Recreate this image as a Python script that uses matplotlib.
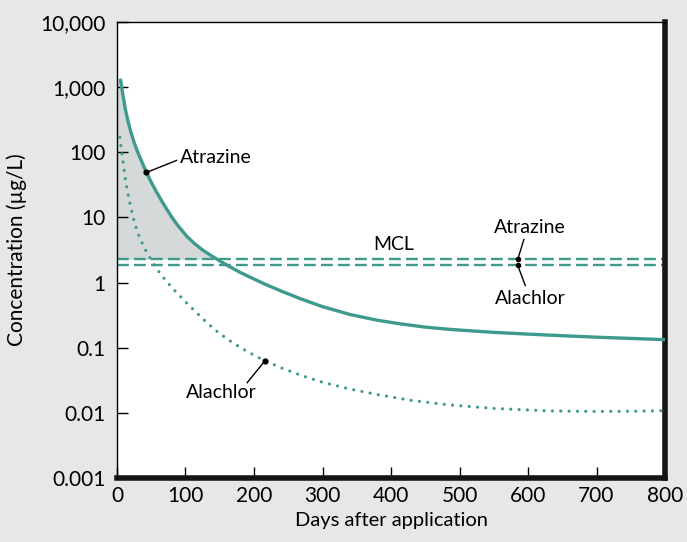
import matplotlib
matplotlib.use("Agg")
import matplotlib.pyplot as plt
from matplotlib.ticker import FixedLocator, FixedFormatter

# ---- data ----
atrazine_days = [5, 8, 12, 16, 20, 25, 30, 36, 43, 50, 58, 66, 73, 80, 90, 102, 113, 125,
                 138, 152, 165, 180, 195, 215, 240, 267, 300, 340, 380, 413, 450, 486,
                 550, 625, 700, 800]
atrazine_conc = [1350, 830, 468, 302, 209, 141, 102, 72.4, 49, 34.7, 24.3, 17.4, 13.2, 10.1,
                 7.24, 5.13, 3.98, 3.16, 2.57, 2.09, 1.74, 1.43, 1.2, 0.955, 0.738, 0.569,
                 0.427, 0.324, 0.264, 0.233, 0.207, 0.191, 0.172, 0.157, 0.145, 0.133]

alachlor_days = [4, 8, 12, 16, 20, 26, 32, 40, 53, 65, 75, 87, 100, 115, 131, 146, 162, 180,
                 200, 216, 240, 270, 300, 340, 380, 430, 486, 550, 632, 700, 760, 800]
alachlor_conc = [170, 83, 39.8, 22.9, 14.5, 7.94, 5.25, 3.39, 1.95, 1.29, 0.966, 0.70, 0.507,
                 0.355, 0.243, 0.178, 0.133, 0.101, 0.0767, 0.063, 0.049, 0.0372, 0.0295,
                 0.0232, 0.0191, 0.0155, 0.0132, 0.0117, 0.0107, 0.0105, 0.0106, 0.0108]

mcl_atrazine = 2.27
mcl_alachlor = 1.84

y_ticks = [0.001, 0.01, 0.1, 1, 10, 100, 1000, 10000]
y_tick_labels = ["0.001", "0.01", "0.1", "1", "10", "100", "1,000", "10,000"]
x_ticks = [0, 100, 200, 300, 400, 500, 600, 700, 800]

teal = "#3d9a8d"
font = ["Lato", "DejaVu Sans"]
plt.rcParams["font.family"] = font

fig = plt.figure(figsize=(6.87, 5.42), dpi=100)
fig.patch.set_facecolor("#e6e8e8")
ax = fig.add_axes([0.1703, 0.1181, 0.968 - 0.1703, 0.9594 - 0.1181])
ax.set_facecolor("white")
ax.set_yscale("log")
ax.set_xlim(0, 800)
ax.set_ylim(0.001, 10000)

# shaded area between atrazine curve and its MCL (extends to the y axis)
fill_x = [0] + atrazine_days
fill_y = [atrazine_conc[0]] + atrazine_conc
ax.fill_between(fill_x, fill_y, mcl_atrazine,
                where=[c >= mcl_atrazine for c in fill_y],
                interpolate=True, color="#d6d9d9", linewidth=0, zorder=1)

# MCL dashed lines
for v in (mcl_atrazine, mcl_alachlor):
    ax.plot([0, 800], [v, v], color=teal, lw=1.7,
            linestyle=(0, (5, 2.2)), zorder=2)

# curves
ax.plot(atrazine_days, atrazine_conc, color=teal, lw=2.4,
        solid_capstyle="butt", solid_joinstyle="round", zorder=3)
ax.plot(alachlor_days, alachlor_conc, color=teal, lw=2.3,
        linestyle=(0, (0.01, 2.6)), dash_capstyle="round", zorder=3)

fs = 14
# annotations
ax.plot([43], [49], "o", color="black", ms=3.5, zorder=5)
ax.plot([43, 87], [49, 75], color="black", lw=1, zorder=5)
ax.text(92, 82, "Atrazine", fontsize=fs, ha="left", va="center")

ax.plot([216], [0.063], "o", color="black", ms=3.5, zorder=5)
ax.plot([216, 190], [0.063, 0.029], color="black", lw=1, zorder=5)
ax.text(152, 0.0205, "Alachlor", fontsize=fs, ha="center", va="center")

ax.text(404, 3.9, "MCL", fontsize=fs, ha="center", va="center")

ax.plot([585], [mcl_atrazine], "o", color="black", ms=3, zorder=5)
ax.plot([585, 594], [mcl_atrazine, 4.6], color="black", lw=1, zorder=5)
ax.text(603, 6.9, "Atrazine", fontsize=fs, ha="center", va="center")

ax.plot([585], [mcl_alachlor], "o", color="black", ms=3, zorder=5)
ax.plot([585, 596], [mcl_alachlor, 0.9], color="black", lw=1, zorder=5)
ax.text(603, 0.57, "Alachlor", fontsize=fs, ha="center", va="center")

# axes styling
ax.yaxis.set_major_locator(FixedLocator(y_ticks))
ax.yaxis.set_major_formatter(FixedFormatter(y_tick_labels))
ax.yaxis.set_minor_locator(FixedLocator([]))
ax.set_xticks(x_ticks)
ax.set_xticklabels([str(v) for v in x_ticks])
ax.tick_params(axis="both", which="major", direction="in", length=8,
               width=1, labelsize=15, color="black")
ax.tick_params(axis="y", pad=8)
ax.tick_params(axis="x", pad=6)
ax.tick_params(top=False, right=False)

for side in ["left", "top"]:
    ax.spines[side].set_linewidth(1)
for side in ["right", "bottom"]:
    ax.spines[side].set_linewidth(4)
    ax.spines[side].set_color("#151515")

ax.set_xlabel("Days after application", fontsize=14.5, labelpad=4)
ax.set_ylabel("Concentration (µg/L)", fontsize=15, labelpad=10)

fig.savefig("out.png", dpi=100, facecolor=fig.get_facecolor())
